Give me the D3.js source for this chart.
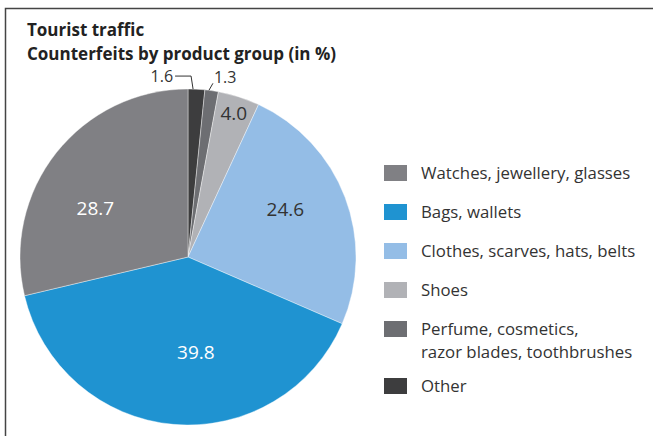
<!DOCTYPE html>
<html>
<head>
<meta charset="utf-8">
<script src="https://cdn.jsdelivr.net/npm/d3@7"></script>
<style>
  body { margin: 0; background: #fff; }
  svg { display: block; font-family: "Open Sans", "Noto Sans", sans-serif; }
  .title { font-weight: bold; font-size: 17px; fill: #222; }
  .legendText { font-size: 16.8px; fill: #333; }
  .sliceLabel { font-size: 19px; }
  .smallLabel { font-size: 16px; fill: #333; }
</style>
</head>
<body>
<script>
//data (percent), clockwise from 12 o'clock
var categories = ["Other", "Perfume, cosmetics, razor blades, toothbrushes", "Shoes",
                  "Clothes, scarves, hats, belts", "Bags, wallets", "Watches, jewellery, glasses"];
var values = [1.6, 1.3, 4.0, 24.6, 39.8, 28.7];
var valueLabels = ["1.6", "1.3", "4.0", "24.6", "39.8", "28.7"];

//legend order and line breaks as shown
var legendOrder = ["Watches, jewellery, glasses", "Bags, wallets", "Clothes, scarves, hats, belts",
                   "Shoes", "Perfume, cosmetics, razor blades, toothbrushes", "Other"];
var legendLines = [["Watches, jewellery, glasses"], ["Bags, wallets"], ["Clothes, scarves, hats, belts"],
                   ["Shoes"], ["Perfume, cosmetics,", "razor blades, toothbrushes"], ["Other"]];

var width = 654, height = 436;

var colors = d3.scaleOrdinal()
  .domain(categories)
  .range(["#3d3d3e", "#6d6e72", "#b1b2b6", "#94bde6", "#1f93d1", "#808084"]);

var svg = d3.select("body").append("svg")
  .attr("width", width)
  .attr("height", height);

//frame (top and left edges visible)
svg.append("path")
  .attr("d", "M5.5," + height + "V8.5H653")
  .attr("fill", "none")
  .attr("stroke", "#444")
  .attr("stroke-width", 1.5);

//title
svg.append("text").attr("class", "title").attr("x", 27).attr("y", 36).text("Tourist traffic");
svg.append("text").attr("class", "title").attr("x", 27).attr("y", 60).text("Counterfeits by product group (in %)");

//pie
var cx = 188, cy = 257, radius = 168;

var pie = d3.pie().sort(null).value(function(d){ return d; });
var arcs = pie(values);

var arc = d3.arc().innerRadius(0).outerRadius(radius);

var g = svg.append("g").attr("transform", "translate(" + cx + "," + cy + ")");

g.selectAll(".slice")
  .data(arcs)
  .enter()
  .append("path")
  .attr("class", "slice")
  .attr("d", arc)
  .attr("fill", function(d, i){ return colors(categories[i]); })
  .attr("stroke", "#fff")
  .attr("stroke-width", 0.4);

//inside labels: radius fraction, nudge, colour
var labelArc = d3.arc().innerRadius(radius * 0.62).outerRadius(radius * 0.62);
var shoesArc = d3.arc().innerRadius(radius * 0.9).outerRadius(radius * 0.9);
var inside = [
  {i: 2, arcGen: shoesArc, nudge: [0, 0], color: "#333"},
  {i: 3, arcGen: labelArc, nudge: [0, -11], color: "#333"},
  {i: 4, arcGen: labelArc, nudge: [17, -9], color: "#fff"},
  {i: 5, arcGen: labelArc, nudge: [-11, 16], color: "#fff"}
];

g.selectAll(".sliceLabel")
  .data(inside)
  .enter()
  .append("text")
  .attr("class", "sliceLabel")
  .attr("text-anchor", "middle")
  .attr("dy", "0.36em")
  .attr("x", function(d){ return d.arcGen.centroid(arcs[d.i])[0] + d.nudge[0]; })
  .attr("y", function(d){ return d.arcGen.centroid(arcs[d.i])[1] + d.nudge[1]; })
  .attr("fill", function(d){ return d.color; })
  .text(function(d){ return valueLabels[d.i]; });

//leader lines for the two small slices
function edgePoint(a, frac){
  var ang = a.startAngle + (a.endAngle - a.startAngle) * frac;
  return [Math.sin(ang) * radius, -Math.cos(ang) * radius];
}

var p0 = edgePoint(arcs[0], 0.3);
var elbow0 = [p0[0] - 2, p0[1] - 13];
g.append("path")
  .attr("d", "M" + p0 + "L" + elbow0 + "H" + (elbow0[0] - 16))
  .attr("fill", "none").attr("stroke", "#333").attr("stroke-width", 1);
g.append("text").attr("class", "smallLabel")
  .attr("text-anchor", "end")
  .attr("x", elbow0[0] - 18).attr("y", elbow0[1] + 6)
  .text(valueLabels[0]);

var p1 = edgePoint(arcs[1], 0.3);
var end1 = [p1[0] + 4, p1[1] - 7];
g.append("path")
  .attr("d", "M" + p1 + "L" + end1)
  .attr("fill", "none").attr("stroke", "#333").attr("stroke-width", 1);
g.append("text").attr("class", "smallLabel")
  .attr("x", end1[0] + 1).attr("y", end1[1] - 0.5)
  .text(valueLabels[1]);

//legend
var legend = svg.append("g").attr("transform", "translate(384,173)");
var rowY = [];
var yy = 0;
legendOrder.forEach(function(name, i){
  rowY.push(yy);
  yy += 39 + (legendLines[i].length - 1) * 18;
});

var items = legend.selectAll(".legendItem")
  .data(legendOrder)
  .enter()
  .append("g")
  .attr("class", "legendItem")
  .attr("transform", function(d, i){ return "translate(0," + rowY[i] + ")"; });

items.append("rect")
  .attr("x", 0).attr("y", -8)
  .attr("width", 23).attr("height", 16)
  .attr("fill", function(d){ return colors(d); });

items.append("text")
  .attr("class", "legendText")
  .attr("x", 37)
  .attr("y", 6)
  .selectAll("tspan")
  .data(function(d, i){ return legendLines[i]; })
  .enter()
  .append("tspan")
  .attr("x", 37)
  .attr("dy", function(d, j){ return j === 0 ? 0 : 23; })
  .text(function(d){ return d; });
</script>
</body>
</html>
